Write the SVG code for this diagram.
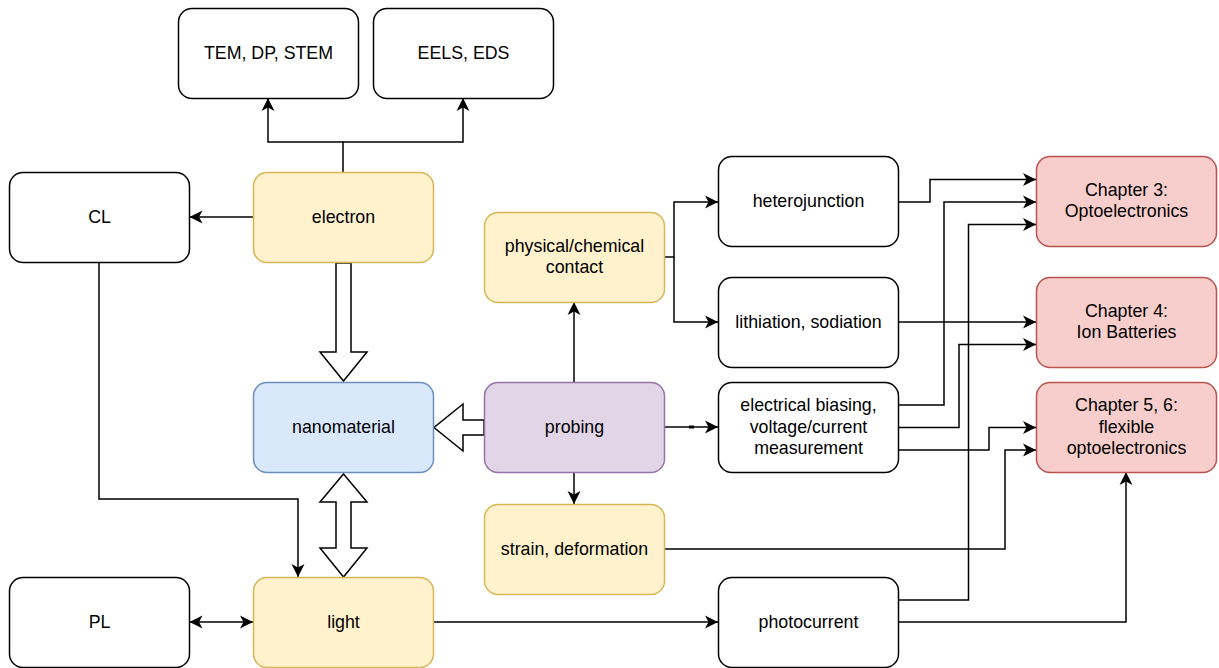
<svg xmlns="http://www.w3.org/2000/svg" width="1219" height="668" viewBox="0 0 1219 668">
<defs>
<style>
.box{stroke-width:1.5}
.plain{fill:#ffffff;stroke:#000000}
.yellow{fill:#fff2cc;stroke:#d6b656}
.blue{fill:#dae8fc;stroke:#6c8ebf}
.purple{fill:#e1d5e7;stroke:#9673a6}
.red{fill:#f8cecc;stroke:#b85450}
text{font-family:"Liberation Sans",Helvetica,Arial,sans-serif;font-size:17.8px;fill:#000000;text-anchor:middle}
.edge{fill:none;stroke:#000000;stroke-width:1.5}
.block{fill:#ffffff;stroke:#000000;stroke-width:1.5;stroke-linejoin:miter}
</style>
<marker id="arr" viewBox="0 0 14 14" markerWidth="14" markerHeight="14" refX="13" refY="7" orient="auto-start-reverse" markerUnits="userSpaceOnUse">
<path d="M0,0.5 L13,7 L0,13.5 L3.5,7 z" fill="#000000"/>
</marker>
</defs>

<g id="connectors">
<path class="edge" d="M343,172 V142 H268 V98" marker-end="url(#arr)"/>
<path class="edge" d="M343,142 H463 V98" marker-end="url(#arr)"/>
<path class="edge" d="M253,217 H189.5" marker-end="url(#arr)"/>
<path class="edge" d="M99,262 V499 H298 V577" marker-end="url(#arr)"/>
<path class="edge" d="M189.5,622 H253" marker-start="url(#arr)" marker-end="url(#arr)"/>
<path class="edge" d="M433,622 H718" marker-end="url(#arr)"/>
<path class="edge" d="M574,382 V302" marker-end="url(#arr)"/>
<path class="edge" d="M574,472 V504" marker-end="url(#arr)"/>
<path class="edge" d="M664,427 H718" marker-end="url(#arr)"/>
<path d="M689,427 H694" stroke="#000000" stroke-width="3" fill="none"/>
<path class="edge" d="M664,257 H674 V202 H718" marker-end="url(#arr)"/>
<path class="edge" d="M674,257 V322 H718" marker-end="url(#arr)"/>
<path class="edge" d="M898,202 H930 V179.5 H1036" marker-end="url(#arr)"/>
<path class="edge" d="M898,405 H944 V202 H1036" marker-end="url(#arr)"/>
<path class="edge" d="M898,600 H968.5 V224.5 H1036" marker-end="url(#arr)"/>
<path class="edge" d="M898,322 H1036" marker-end="url(#arr)"/>
<path class="edge" d="M898,427.5 H959 V344.5 H1036" marker-end="url(#arr)"/>
<path class="edge" d="M898,450 H989 V427.5 H1036" marker-end="url(#arr)"/>
<path class="edge" d="M664,549 H1005 V450 H1036" marker-end="url(#arr)"/>
<path class="edge" d="M898,622 H1126 V472" marker-end="url(#arr)"/>
<polygon class="block" points="336,263 351,263 351,352 367,352 343.5,381 320,352 336,352"/>
<polygon class="block" points="484,420 463,420 463,404 434,427.5 463,451 463,435 484,435"/>
<polygon class="block" points="343.5,474 367,502 351,502 351,548 367,548 343.5,577 320,548 336,548 336,502 320,502"/>
</g>

<g id="node-tem"><rect class="box plain" x="178.5" y="8.5" width="180" height="90" rx="13.5"/><text x="268.5" y="58.5">TEM, DP, STEM</text></g>
<g id="node-eels"><rect class="box plain" x="373.5" y="8.5" width="180" height="90" rx="13.5"/><text x="463.5" y="58.5">EELS, EDS</text></g>
<g id="node-cl"><rect class="box plain" x="9.5" y="172.5" width="180" height="90" rx="13.5"/><text x="99.5" y="222.5">CL</text></g>
<g id="node-electron"><rect class="box yellow" x="253.5" y="172.5" width="180" height="90" rx="13.5"/><text x="343.5" y="222.5">electron</text></g>
<g id="node-contact"><rect class="box yellow" x="484.5" y="212.5" width="180" height="90" rx="13.5"/><text x="574.5" y="251.5">physical/chemical</text><text x="574.5" y="272.5">contact</text></g>
<g id="node-hetero"><rect class="box plain" x="718.5" y="156.5" width="180" height="90" rx="13.5"/><text x="808.5" y="206.5">heterojunction</text></g>
<g id="node-lith"><rect class="box plain" x="718.5" y="277.5" width="180" height="90" rx="13.5"/><text x="808.5" y="327.5">lithiation, sodiation</text></g>
<g id="node-ch3"><rect class="box red" x="1036.5" y="156.5" width="180" height="90" rx="13.5"/><text x="1126.5" y="195.5">Chapter 3:</text><text x="1126.5" y="217">Optoelectronics</text></g>
<g id="node-ch4"><rect class="box red" x="1036.5" y="277.5" width="180" height="90" rx="13.5"/><text x="1126.5" y="316.5">Chapter 4:</text><text x="1126.5" y="338">Ion Batteries</text></g>
<g id="node-nano"><rect class="box blue" x="253.5" y="382.5" width="180" height="90" rx="13.5"/><text x="343.5" y="432.5">nanomaterial</text></g>
<g id="node-probing"><rect class="box purple" x="484.5" y="382.5" width="180" height="90" rx="13.5"/><text x="574.5" y="432.5">probing</text></g>
<g id="node-bias"><rect class="box plain" x="718.5" y="382.5" width="180" height="90" rx="13.5"/><text x="808.5" y="411">electrical biasing,</text><text x="808.5" y="432.5">voltage/current</text><text x="808.5" y="453.5">measurement</text></g>
<g id="node-ch56"><rect class="box red" x="1036.5" y="382.5" width="180" height="90" rx="13.5"/><text x="1126.5" y="411">Chapter 5, 6:</text><text x="1126.5" y="432.5">flexible</text><text x="1126.5" y="453.5">optoelectronics</text></g>
<g id="node-strain"><rect class="box yellow" x="484.5" y="504.5" width="180" height="90" rx="13.5"/><text x="574.5" y="554.5">strain, deformation</text></g>
<g id="node-pl"><rect class="box plain" x="9.5" y="577.5" width="180" height="90" rx="13.5"/><text x="99.5" y="627.5">PL</text></g>
<g id="node-light"><rect class="box yellow" x="253.5" y="577.5" width="180" height="90" rx="13.5"/><text x="343.5" y="627.5">light</text></g>
<g id="node-photo"><rect class="box plain" x="718.5" y="577.5" width="180" height="90" rx="13.5"/><text x="808.5" y="627.5">photocurrent</text></g>
</svg>
